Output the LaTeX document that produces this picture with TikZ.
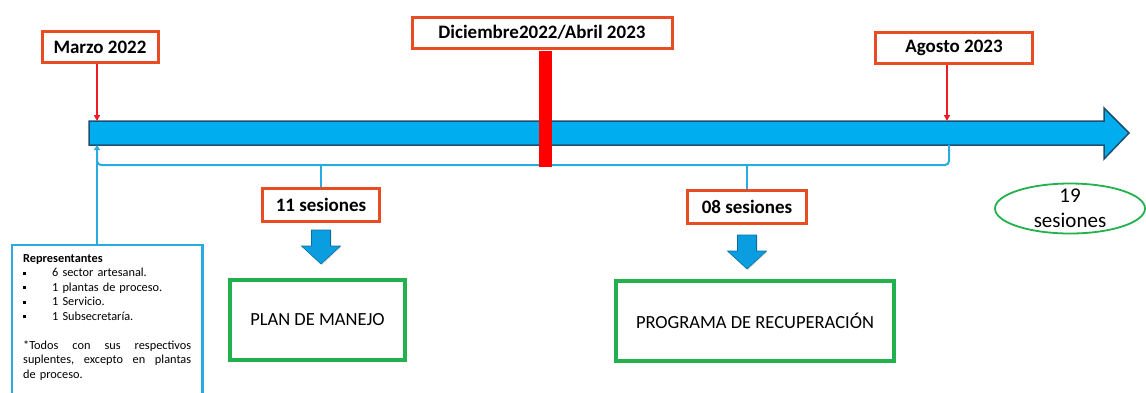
\documentclass[tikz,border=0pt]{standalone}
\usepackage{fontspec}
\setmainfont{Carlito}
\usetikzlibrary{arrows.meta,positioning,shapes.geometric,shadows}

\definecolor{boxred}{HTML}{E84C22}
\definecolor{linered}{HTML}{EE1C25}
\definecolor{barblue}{HTML}{00AEEF}
\definecolor{bardark}{HTML}{1F4E6E}
\definecolor{lineblue}{HTML}{29ABE2}
\definecolor{boxgreen}{HTML}{22B14C}
\definecolor{arrblue}{HTML}{0A9EE0}

\newcommand{\repitem}{\makebox[29pt][l]{\raisebox{2pt}{\rule{3pt}{3pt}}}}

\begin{document}
\begin{tikzpicture}[x=1pt,y=1pt,
  datebox/.style={draw=boxred,line width=3pt,fill=white,minimum height=31pt,
                  inner sep=0pt,font=\fontsize{19}{22}\selectfont\bfseries},
  sesbox/.style={datebox,minimum height=33pt},
  resbox/.style={draw=boxgreen,line width=3.2pt,minimum height=80pt,inner sep=0pt,
                 font=\fontsize{18.5}{22}\selectfont},
  datearrow/.style={-{Triangle[width=6pt,length=6pt]},draw=linered,line width=1.5pt},
  blueline/.style={draw=lineblue,line width=2pt},
  downarrow/.style={fill=arrblue,draw=arrblue!70!black,line width=0.6pt,
                    drop shadow={opacity=0.25,shadow xshift=1pt,shadow yshift=-1pt}}]

  \useasboundingbox (0,0) rectangle (1146,-392);

  % time line
  \fill[barblue,draw=bardark,line width=1.5pt] (89,-121) -- (1104,-121) -- (1104,-108)
    -- (1129,-133) -- (1104,-159) -- (1104,-145) -- (89,-145) -- cycle;

  \coordinate (tMarzo)  at (97,-121);
  \coordinate (tAgosto) at (947,-121);
  \coordinate (bMarzo)  at (97,-145);
  \coordinate (bAgosto) at (949,-145);
  \coordinate (barEnd)  at (545,-167);
  \coordinate (brace)   at (97,-165);
  \coordinate (braceTop) at (97,-152);

  % sessions bracket
  \draw[blueline,rounded corners=4pt] (braceTop) |- (bAgosto |- brace) -- (bAgosto);

  % dates
  \node[datebox,minimum width=116pt] (marzo)  at (100,-47)   {Marzo 2022};
  \node[datebox,minimum width=260pt] (dic)    at (542,-32.5) {Diciembre2022/Abril 2023};
  \node[datebox,minimum width=157pt] (agosto) at (954,-48)   {Agosto 2023};

  \draw[datearrow] (marzo.south -| tMarzo) -- (tMarzo);
  \draw[datearrow] (agosto.south -| tAgosto) -- (tAgosto);
  \draw[red,line width=13pt] ([yshift=-1.5pt]dic.south -| barEnd) -- (barEnd);

  % sessions
  \node[sesbox,minimum width=117pt] (s11) at (321,-205) {11 sesiones};
  \node[sesbox,minimum width=119pt] (s08) at (747,-207) {08 sesiones};
  \draw[blueline] (s11.north |- brace) -- (s11.north);
  \draw[blueline] (s08.north |- brace) -- (s08.north);

  \coordinate[below=7pt of s11] (a11);
  \coordinate[below=10pt of s08] (a08);
  \foreach \a in {a11,a08}
    \draw[downarrow] (\a) ++(-9.5,0) -- ++(19,0) -- ++(0,-16) -- ++(10,0)
      -- ++(-19.5,-18) -- ++(-19.5,18) -- ++(10,0) -- cycle;

  \node[resbox,minimum width=175pt] (plan) at (317.5,-320) {PLAN DE MANEJO};
  \node[resbox,minimum width=278pt] (prog) at (755,-321) {PROGRAMA DE RECUPERACIÓN};

  % total
  \node[font=\fontsize{21}{25}\selectfont,align=center,inner sep=0pt] (tot) at (1070,-208.5) {19\\sesiones};
  \draw[boxgreen,line width=1.8pt] (tot.center) ellipse [x radius=75pt,y radius=25pt];

  % representatives
  \node[anchor=north west,text width=168pt,inner sep=0pt,align=left,
        font=\fontsize{12.3}{14.5}\selectfont] (rep) at (23,-254) {%
    \textbf{Representantes}\\
    \repitem 6 sector artesanal.\\
    \repitem 1 plantas de proceso.\\
    \repitem 1 Servicio.\\
    \repitem 1 Subsecretaría.\\[14.5pt]
    \makebox[168pt]{*Todos\hfill con\hfill sus\hfill respectivos}\\
    \makebox[168pt]{suplentes,\hfill excepto\hfill en\hfill plantas}\\
    de proceso.};
  \coordinate (repTop) at ([yshift=9pt]rep.north);
  \draw[blueline,line width=2.5pt] ([xshift=-11pt,yshift=-30pt]rep.south west)
    |- ([xshift=11pt]repTop -| rep.north east) -- ([xshift=11pt,yshift=-30pt]rep.south east);
  \draw[blueline,-{Triangle[width=6pt,length=5pt]}] (repTop -| bMarzo) -- (bMarzo);
\end{tikzpicture}
\end{document}
